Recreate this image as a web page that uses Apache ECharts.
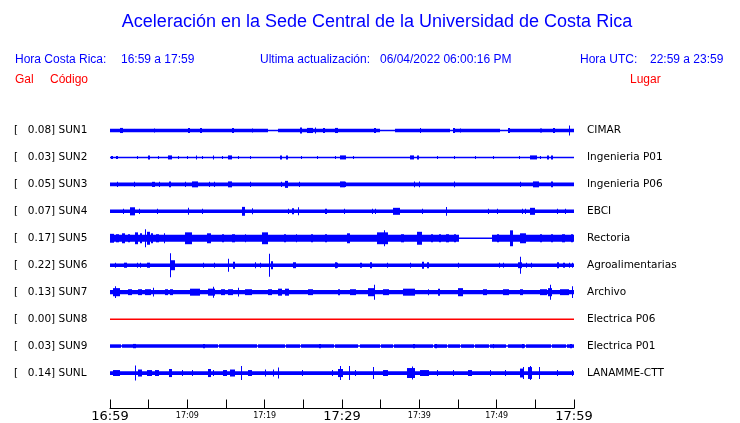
<!DOCTYPE html>
<html>
<head>
<meta charset="utf-8">
<script src="https://cdn.jsdelivr.net/npm/echarts@6/dist/echarts.min.js"></script>
<style>html,body{margin:0;padding:0;background:#fff}#c{width:740px;height:423px}</style>
</head>
<body>
<div id="c"></div>
<script>
// ---- DATA ----
const stationCodes = ['SUN1','SUN2','SUN3','SUN4','SUN5','SUN6','SUN7','SUN8','SUN9','SUNL'];
const galValues = [0.08,0.03,0.05,0.07,0.17,0.22,0.13,0.00,0.03,0.14];
const places = ['CIMAR','Ingenieria P01','Ingenieria P06','EBCI','Rectoria','Agroalimentarias','Archivo','Electrica P06','Electrica P01','LANAMME-CTT'];
const tickLabels = ['16:59','','17:09','','17:19','','17:29','','17:39','','17:49','','17:59'];
const majorLabels = ['16:59','17:29','17:59'];
const titleText = 'Aceleración en la Sede Central de la Universidad de Costa Rica';
const headerLocal = ['Hora Costa Rica:', '16:59 a 17:59'];
const headerUpdate = ['Ultima actualización:', '06/04/2022 06:00:16 PM'];
const headerUtc = ['Hora UTC:', '22:59 a 23:59'];
const columnHeads = ['Gal', 'Código', 'Lugar'];

// time in minutes after 16:59; amplitude normalised (1 = half the row spacing)
// bands: [tStart, tEnd, amplitude]; events: [tStart, duration, amplitude]
const sun1Bands = [[0,20.43,0.13],[21.72,34.91,0.13],[36.85,43.97,0.13],[44.61,50.43,0.13],[51.72,60,0.13]];
const sun1Events = [[1.29,0.4,0.19],[5.73,0.15,0.15],[10.09,0.3,0.19],[11.64,0.2,0.19],[15.74,0.3,0.19],[18.32,0.2,0.15],[24.57,0.3,0.22],[25.5,0.8,0.19],[26.51,0.15,0.22],[27.54,0.3,0.19],[29.09,0.4,0.19],[34.14,0.3,0.19],[40.09,0.15,0.19],[44.35,0.3,0.19],[45.26,0.15,0.15],[51.47,0.3,0.19],[55.6,0.2,0.15],[57.28,0.2,0.19],[59.39,0.13,0.37]];

const sun2Bands = [];
const sun2Events = [[0.1,0.3,0.11],[0.8,0.2,0.11],[3.53,0.15,0.11],[4.9,0.3,0.15],[6.2,0.15,0.11],[7.5,0.5,0.15],[8.79,0.15,0.11],[9.96,0.15,0.11],[11.1,0.2,0.15],[11.9,0.15,0.11],[13.3,0.2,0.15],[14.48,0.15,0.11],[15.26,0.5,0.15],[16.55,0.15,0.11],[18.1,0.15,0.11],[21.98,0.3,0.15],[22.76,0.2,0.15],[24.7,0.15,0.11],[26.77,0.15,0.11],[29.09,0.15,0.11],[29.74,0.8,0.15],[31.42,0.15,0.11],[38.79,0.5,0.15],[39.7,0.3,0.15],[42.28,0.15,0.11],[44.48,0.15,0.11],[47.2,0.15,0.11],[49.52,0.15,0.11],[52.89,0.15,0.11],[54.31,0.9,0.15],[55.6,0.15,0.11],[56.51,0.2,0.15],[57.03,0.2,0.15]];

const sun3Bands = [[0,60,0.13]];
const sun3Events = [[0.87,0.2,0.19],[3.1,0.15,0.19],[5.43,0.4,0.19],[6.34,0.15,0.19],[7.63,0.3,0.22],[9.7,0.15,0.19],[10.6,0.8,0.22],[12.8,0.15,0.19],[13.45,0.15,0.19],[15.26,0.5,0.22],[18.1,0.15,0.19],[22.1,0.15,0.19],[22.63,0.4,0.26],[24.44,0.15,0.19],[29.74,0.6,0.22],[30.39,0.15,0.19],[39.31,0.15,0.22],[39.96,0.15,0.22],[44.48,0.15,0.22],[53.02,0.15,0.19],[54.7,0.8,0.22],[57.03,0.2,0.22]];

const sun4Bands = [[0,60,0.13]];
const sun4Events = [[1.68,0.15,0.19],[2.59,0.6,0.3],[3.75,0.15,0.19],[6.08,0.15,0.19],[10.09,0.15,0.26],[11.9,0.15,0.19],[17.07,0.4,0.33],[18.36,0.15,0.22],[23.02,0.15,0.19],[23.54,0.3,0.22],[24.31,0.15,0.3],[27.8,0.3,0.19],[30.26,0.15,0.19],[33.88,0.15,0.19],[34.27,0.15,0.19],[36.6,0.9,0.26],[40.35,0.15,0.19],[43.45,0.15,0.33],[48.88,0.15,0.19],[50.04,0.15,0.19],[53.28,0.15,0.19],[53.66,0.15,0.19],[54.31,0.6,0.26],[57.8,0.15,0.19],[58.84,0.15,0.19]];

const sun5Bands = [[0,45.13,0.26],[49.4,60,0.26]];
const sun5Events = [[0,0.5,0.33],[0.8,0.3,0.3],[1.5,0.4,0.37],[2.3,0.3,0.3],[3.2,0.4,0.44],[3.88,0.3,0.37],[4.5,0.15,0.67],[4.8,0.4,0.48],[5.3,0.3,0.37],[6.0,0.3,0.3],[7.0,0.15,0.37],[9.7,0.9,0.44],[12.5,0.5,0.37],[14.5,0.3,0.3],[15.8,0.3,0.3],[17.4,0.15,0.3],[19.65,0.8,0.44],[22.5,0.2,0.3],[24.0,0.2,0.3],[26.0,0.3,0.3],[27.8,0.2,0.3],[30.6,0.4,0.37],[34.5,1.5,0.44],[35.4,0.15,0.59],[37.6,0.4,0.3],[39.7,0.6,0.48],[41.5,0.3,0.3],[42.6,0.2,0.3],[43.5,0.4,0.3],[44.5,0.3,0.3],[50.0,0.3,0.3],[51.72,0.4,0.59],[53.0,0.8,0.37],[55.6,0.2,0.3],[57.0,0.3,0.3],[58.5,0.3,0.3],[59.6,0.3,0.3]];

const sun6Bands = [[0,60,0.13]];
const sun6Events = [[0.65,0.15,0.19],[1.8,0.4,0.19],[3.49,0.15,0.19],[3.88,0.15,0.19],[4.8,0.4,0.19],[7.8,0.15,0.89],[7.95,0.4,0.37],[12.03,0.15,0.19],[13.45,0.15,0.19],[15.3,0.15,0.48],[15.9,0.3,0.26],[18.75,0.15,0.22],[19.4,0.15,0.19],[20.6,0.15,0.85],[20.8,0.3,0.3],[23.66,0.4,0.22],[29.09,0.2,0.22],[29.35,0.15,0.19],[32.33,0.2,0.19],[33.62,0.2,0.22],[35.82,0.15,0.19],[38.79,0.15,0.19],[40.35,0.3,0.26],[40.99,0.2,0.22],[45.0,0.15,0.19],[50.3,0.15,0.19],[50.82,0.15,0.19],[52.8,0.5,0.22],[53.06,0.15,0.63],[53.8,0.15,0.19],[54.44,0.15,0.19],[57.8,0.3,0.22],[58.6,0.2,0.19],[59.3,0.2,0.19],[59.7,0.2,0.19]];

const sun7Bands = [[0,60,0.16]];
const sun7Events = [[0.4,0.9,0.3],[0.69,0.15,0.44],[2.3,0.5,0.22],[3.6,0.5,0.22],[4.5,0.8,0.22],[5.56,0.15,0.33],[7.1,0.4,0.22],[7.8,0.3,0.22],[10.4,1.2,0.26],[12.7,0.9,0.26],[13.36,0.15,0.41],[14.3,0.6,0.22],[15.3,0.6,0.22],[16.5,0.15,0.33],[17.5,0.8,0.22],[20.4,0.5,0.22],[21.7,0.5,0.26],[22.6,0.6,0.26],[25.6,0.6,0.22],[29.5,0.2,0.22],[31.0,0.8,0.22],[33.4,0.9,0.3],[34.1,0.15,0.56],[35.3,0.8,0.22],[37.9,1.5,0.26],[41.1,0.2,0.22],[42.4,0.3,0.26],[45.0,0.6,0.3],[48.2,0.5,0.22],[50.8,0.8,0.22],[53.0,0.4,0.22],[55.6,0.9,0.22],[56.6,0.6,0.3],[56.9,0.15,0.56],[58.2,1.2,0.22],[59.7,0.15,0.44]];

const sun8Bands = [];
const sun8Events = [];

const sun9Bands = [[0,1.42,0.13],[1.58,13.97,0.13],[14.12,19.01,0.13],[19.17,22.63,0.13],[22.79,24.57,0.13],[24.73,28.97,0.13],[29.13,32.07,0.13],[32.33,34.91,0.13],[35.07,36.59,0.13],[36.75,39.18,0.13],[39.37,41.77,0.13],[41.93,43.58,0.13],[43.74,45.26,0.13],[45.42,47.07,0.13],[47.23,49.01,0.13],[49.17,51.21,0.13],[51.45,53.66,0.13],[53.82,57.03,0.13],[57.19,58.97,0.13],[59.13,60,0.13]];
const sun9Events = [[3.0,0.3,0.16],[12.0,0.3,0.16],[27.0,0.3,0.16],[39.2,0.2,0.16],[42.0,0.3,0.16],[49.5,0.2,0.16],[53.3,0.2,0.16],[59.5,0.3,0.16]];

const sunLBands = [[0,60,0.14]];
const sunLEvents = [[0.4,0.9,0.22],[3.27,0.15,0.56],[3.6,0.5,0.26],[4.8,0.6,0.22],[5.8,0.5,0.22],[7.6,0.4,0.3],[9.3,0.15,0.22],[10.6,0.15,0.22],[12.67,0.4,0.3],[13.3,0.15,0.22],[14.6,0.5,0.22],[15.5,0.6,0.26],[16.98,0.15,0.52],[17.85,0.5,0.22],[20.04,0.15,0.26],[21.08,0.15,0.26],[21.76,0.15,0.41],[24.83,0.15,0.22],[28.7,0.15,0.22],[29.5,0.6,0.3],[29.78,0.15,0.52],[30.94,0.15,0.52],[31.68,0.15,0.22],[34.05,0.15,0.44],[35.3,0.6,0.22],[38.4,1.0,0.37],[39.0,0.15,0.48],[40.1,1.2,0.22],[42.28,0.15,0.22],[44.35,0.15,0.22],[46.3,0.5,0.22],[49.14,0.15,0.22],[51.08,0.15,0.22],[53.0,0.4,0.33],[53.37,0.15,0.44],[54.0,0.6,0.44],[54.31,0.15,0.52],[55.5,0.15,0.44],[57.8,0.15,0.22],[59.7,0.2,0.22]];

const traceBands = [sun1Bands,sun2Bands,sun3Bands,sun4Bands,sun5Bands,sun6Bands,sun7Bands,sun8Bands,sun9Bands,sunLBands];
const traceEvents = [sun1Events,sun2Events,sun3Events,sun4Events,sun5Events,sun6Events,sun7Events,sun8Events,sun9Events,sunLEvents];
const timeSpan = [0, 60];

// ---- BUILD ----
const BLUE = '#0000ff', RED = '#ff0000';
const flatTrace = galValues.map(v => v === 0);
// item: [tStart, row, tEnd, amplitude, kind]  kind: 0 = base line, 1 = band, 2 = event
const items = [];
traceBands.forEach((bands, i) => {
  items.push([timeSpan[0], i, timeSpan[1], 0, 0]);
  bands.forEach(b => items.push([b[0], i, b[1], b[2], 1]));
  traceEvents[i].forEach(e => items.push([e[0], i, e[0] + e[1], e[2], 2]));
});

const chart = echarts.init(document.getElementById('c'), null, {renderer: 'canvas'});
const hdrFont = '12px "Liberation Sans", Arial, sans-serif';
function txt(x, y, text, color, font, align) {
  return {type: 'text', x: x, y: y, silent: true,
    style: {text: text, fill: color, font: font, textAlign: align || 'left', align: align || 'left',
            textVerticalAlign: 'middle', verticalAlign: 'middle'}};
}
chart.setOption({
  animation: false,
  backgroundColor: '#ffffff',
  graphic: [
    txt(377, 22, titleText, BLUE, '18px "Liberation Sans", Arial, sans-serif', 'center'),
    txt(15, 60, headerLocal[0], BLUE, hdrFont),
    txt(121, 60, headerLocal[1], BLUE, hdrFont),
    txt(260, 60, headerUpdate[0], BLUE, hdrFont),
    txt(380, 60, headerUpdate[1], BLUE, hdrFont),
    txt(580, 60, headerUtc[0], BLUE, hdrFont),
    txt(650, 60, headerUtc[1], BLUE, hdrFont),
    txt(15, 80, columnHeads[0], RED, hdrFont),
    txt(50, 80, columnHeads[1], RED, hdrFont),
    txt(630, 80, columnHeads[2], RED, hdrFont)
  ],
  grid: {left: 110, right: 166, top: 117, bottom: 36, containLabel: false},
  xAxis: {
    type: 'value', min: timeSpan[0], max: timeSpan[1], interval: 5, offset: 22,
    axisLine: {show: true, lineStyle: {color: '#000', width: 1}},
    axisTick: {show: true, inside: true, length: 9, lineStyle: {color: '#000', width: 1}},
    splitLine: {show: false},
    axisLabel: {
      show: true, margin: 1, showMinLabel: true, showMaxLabel: true,
      formatter: function (v) {
        const lab = tickLabels[Math.round(v / 5)];
        if (!lab) return '';
        return majorLabels.indexOf(lab) >= 0 ? '{b|' + lab + '}' : '{s|' + lab + '}';
      },
      rich: {
        b: {fontFamily: 'DejaVu Sans', fontSize: 13, color: '#000', lineHeight: 14},
        s: {fontFamily: 'DejaVu Sans', fontSize: 8, color: '#000', lineHeight: 12, padding: [1, 0, 0, 0]}
      }
    }
  },
  yAxis: [
    {
      type: 'category', inverse: true, data: stationCodes,
      axisLine: {show: false}, axisTick: {show: false}, splitLine: {show: false},
      axisLabel: {
        margin: 96, align: 'left',
        formatter: function (v, idx) { return '{a|[}{b|' + galValues[idx].toFixed(2) + '] ' + v + '}'; },
        rich: {
          a: {fontFamily: 'DejaVu Sans', fontSize: 10.5, color: '#000', width: 13.7},
          b: {fontFamily: 'DejaVu Sans', fontSize: 10.5, color: '#000'}
        }
      }
    },
    {
      type: 'category', inverse: true, position: 'right', data: places,
      axisLine: {show: false}, axisTick: {show: false}, splitLine: {show: false},
      axisLabel: {margin: 13, align: 'left', fontFamily: 'DejaVu Sans', fontSize: 10.5, color: '#000'}
    }
  ],
  series: [{
    type: 'custom',
    xAxisIndex: 0, yAxisIndex: 0,
    encode: {x: [0, 2], y: 1},
    data: items,
    clip: false,
    silent: true,
    renderItem: function (params, api) {
      const t0 = api.value(0), row = api.value(1), t1 = api.value(2), a = api.value(3), kind = api.value(4);
      const p0 = api.coord([t0, row]);
      const p1 = api.coord([t1, row]);
      const band = api.size([0, 1])[1];
      const cy = p0[1];
      const fill = flatTrace[row] ? RED : BLUE;
      const x0 = Math.round(p0[0]);
      const x1 = Math.max(Math.round(p1[0]), x0 + 1);
      if (kind === 0) {
        return {type: 'rect', shape: {x: x0, y: cy - 0.75, width: x1 - x0, height: 1.5}, style: {fill: fill}};
      }
      const half = a * band / 2;
      return {type: 'rect', shape: {x: x0, y: cy - half, width: x1 - x0, height: 2 * half}, style: {fill: fill}};
    }
  }]
});
</script>
</body>
</html>
